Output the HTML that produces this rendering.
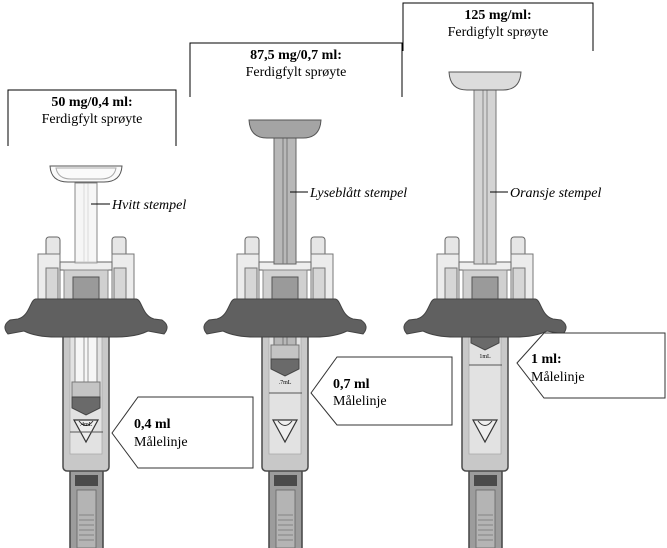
<!DOCTYPE html>
<html><head><meta charset="utf-8"><style>
html,body{margin:0;padding:0;background:#fff}
svg{display:block}
text{font-family:"Liberation Serif",serif;fill:#000}
</style></head><body>
<svg width="667" height="548" viewBox="0 0 667 548" xmlns="http://www.w3.org/2000/svg">
<defs>
<g id="base">
  <!-- needle shield -->
  <rect x="-16" y="468" width="33" height="82" fill="#9c9c9c" stroke="#444" stroke-width="1.5"/>
  <rect x="-11" y="475" width="23" height="11" fill="#4a4a4a"/>
  <rect x="-9" y="490" width="19" height="58" fill="#b4b4b4" stroke="#666" stroke-width="0.8"/>
  <g stroke="#777" stroke-width="0.8"><line x1="-7" y1="515" x2="8" y2="515"/><line x1="-7" y1="520" x2="8" y2="520"/><line x1="-7" y1="525" x2="8" y2="525"/><line x1="-7" y1="530" x2="8" y2="530"/><line x1="-7" y1="535" x2="8" y2="535"/><line x1="-7" y1="540" x2="8" y2="540"/></g>
  <!-- barrel -->
  <rect x="-23" y="330" width="46" height="141" rx="4" fill="#c8c8c8" stroke="#4a4a4a" stroke-width="1.5"/>
  <rect x="-16" y="334" width="32" height="120" fill="#e2e2e2" stroke="#aaa" stroke-width="0.8"/>
  <!-- tip -->
  <polygon points="-12,420 12,420 0,442" fill="#eee" stroke="#333" stroke-width="1.2"/>
  <path d="M-7,421 Q0,430 7,421" fill="none" stroke="#333" stroke-width="1"/>
</g>
<g id="grip">
  <rect x="-40" y="237" width="14" height="20" rx="3" fill="#e6e6e6" stroke="#666"/>
  <rect x="26" y="237" width="14" height="20" rx="3" fill="#e6e6e6" stroke="#666"/>
  <rect x="-48" y="254" width="22" height="48" fill="#ececec" stroke="#777"/>
  <rect x="26" y="254" width="22" height="48" fill="#ececec" stroke="#777"/>
  <rect x="-40" y="268" width="12" height="34" fill="#d6d6d6" stroke="#777"/>
  <rect x="28" y="268" width="12" height="34" fill="#d6d6d6" stroke="#777"/>
  <rect x="-26" y="262" width="52" height="8" fill="#eee" stroke="#666"/>
  <rect x="-22" y="270" width="44" height="32" fill="#d0d0d0" stroke="#888"/>
  <rect x="-13" y="277" width="26" height="25" fill="#9a9a9a" stroke="#555"/>
  <!-- flange -->
  <path d="M-50,299 L50,299 C56,299 56,316 68,319 L76,320 Q85,326 78,334 L62,331 Q50,337 30,337 L-30,337 Q-50,337 -62,331 L-78,334 Q-85,326 -76,320 L-68,319 C-56,316 -56,299 -50,299 Z" fill="#606060" stroke="#444"/>
</g>
</defs>

<!-- Header boxes -->
<g fill="none" stroke="#000" stroke-width="1">
  <polyline points="8,146 8,90 176,90 176,146"/>
  <polyline points="190,97 190,43 402,43 402,97"/>
  <polyline points="403,51 403,3 593,3 593,51"/>
</g>
<text x="92" y="106" font-size="14" font-weight="bold" text-anchor="middle">50 mg/0,4 ml:</text>
<text x="92" y="123" font-size="14" text-anchor="middle">Ferdigfylt sprøyte</text>
<text x="296" y="59" font-size="14" font-weight="bold" text-anchor="middle">87,5 mg/0,7 ml:</text>
<text x="296" y="76" font-size="14" text-anchor="middle">Ferdigfylt sprøyte</text>
<text x="498" y="19" font-size="14" font-weight="bold" text-anchor="middle">125 mg/ml:</text>
<text x="498" y="36" font-size="14" text-anchor="middle">Ferdigfylt sprøyte</text>

<!-- Syringe 1 -->
<g transform="translate(86,0)">
  <use href="#base"/>
  <rect x="-11" y="183" width="22" height="200" fill="#f6f6f6" stroke="#888"/>
  <line x1="-2" y1="183" x2="-2" y2="383" stroke="#999"/><line x1="2" y1="183" x2="2" y2="383" stroke="#999"/>
  <rect x="-14" y="382" width="28" height="15" fill="#c4c4c4" stroke="#777"/>
  <path d="M-14,397 L14,397 L14,408 L0,415 L-14,408 Z" fill="#6a6a6a" stroke="#444"/>
  <line x1="-16" y1="432" x2="17" y2="432" stroke="#555"/>
  <text x="0" y="426" font-size="6" text-anchor="middle" font-family="Liberation Sans">.4mL</text>
  <use href="#grip"/>
  <rect x="-11" y="183" width="22" height="80" fill="#f6f6f6" stroke="#888" opacity="0.7"/>
  <path d="M-36,166 L36,166 Q35,182 18,182 L-18,182 Q-35,182 -36,166 Z" fill="#fafafa" stroke="#555"/>
  <path d="M-30,168 L30,168 Q28,179 15,179 L-15,179 Q-28,179 -30,168 Z" fill="none" stroke="#aaa"/>
</g>
<line x1="91" y1="204" x2="110" y2="204" stroke="#000"/>
<text x="112" y="209" font-size="14" font-style="italic">Hvitt stempel</text>

<!-- Syringe 2 -->
<g transform="translate(285,0)">
  <use href="#base"/>
  <rect x="-11" y="138" width="22" height="208" fill="#b8b8b8" stroke="#666"/>
  <line x1="-2" y1="138" x2="-2" y2="346" stroke="#777"/><line x1="2" y1="138" x2="2" y2="346" stroke="#777"/>
  <rect x="-14" y="345" width="28" height="14" fill="#c4c4c4" stroke="#777"/>
  <path d="M-14,359 L14,359 L14,369 L0,376 L-14,369 Z" fill="#6a6a6a" stroke="#444"/>
  <line x1="-16" y1="393" x2="17" y2="393" stroke="#555"/>
  <text x="0" y="384" font-size="6" text-anchor="middle" font-family="Liberation Sans">.7mL</text>
  <use href="#grip"/>
  <rect x="-11" y="138" width="22" height="126" fill="#b8b8b8" stroke="#666"/>
  <line x1="-2" y1="138" x2="-2" y2="264" stroke="#777"/><line x1="2" y1="138" x2="2" y2="264" stroke="#777"/>
  <path d="M-36,120 L36,120 Q35,138 18,138 L-18,138 Q-35,138 -36,120 Z" fill="#a4a4a4" stroke="#555"/>
</g>
<line x1="290" y1="192" x2="308" y2="192" stroke="#000"/>
<text x="310" y="197" font-size="14" font-style="italic">Lyseblått stempel</text>

<!-- Syringe 3 -->
<g transform="translate(485,0)">
  <use href="#base"/>
  <rect x="-11" y="88" width="22" height="250" fill="#d4d4d4" stroke="#777"/>
  <line x1="-2" y1="88" x2="-2" y2="338" stroke="#888"/><line x1="2" y1="88" x2="2" y2="338" stroke="#888"/>
  <path d="M-14,335 L14,335 L14,343 L0,350 L-14,343 Z" fill="#6a6a6a" stroke="#444"/>
  <line x1="-16" y1="365" x2="17" y2="365" stroke="#555"/>
  <text x="0" y="358" font-size="6" text-anchor="middle" font-family="Liberation Sans">1mL</text>
  <use href="#grip"/>
  <rect x="-11" y="88" width="22" height="176" fill="#d4d4d4" stroke="#777"/>
  <line x1="-2" y1="88" x2="-2" y2="264" stroke="#888"/><line x1="2" y1="88" x2="2" y2="264" stroke="#888"/>
  <path d="M-36,72 L36,72 Q35,90 18,90 L-18,90 Q-35,90 -36,72 Z" fill="#dcdcdc" stroke="#555"/>
</g>
<line x1="490" y1="192" x2="508" y2="192" stroke="#000"/>
<text x="510" y="197" font-size="14" font-style="italic">Oransje stempel</text>

<!-- Callout boxes -->
<g fill="#fff" stroke="#333" stroke-width="1">
  <polygon points="112,433 138,397 253,397 253,468 138,468"/>
  <polygon points="311,393 337,357 452,357 452,425 337,425"/>
  <polygon points="517,363 544,333 665,333 665,398 544,398"/>
</g>
<text x="134" y="428" font-size="14" font-weight="bold">0,4 ml</text>
<text x="134" y="446" font-size="14">Målelinje</text>
<text x="333" y="388" font-size="14" font-weight="bold">0,7 ml</text>
<text x="333" y="405" font-size="14">Målelinje</text>
<text x="531" y="363" font-size="14" font-weight="bold">1 ml:</text>
<text x="531" y="381" font-size="14">Målelinje</text>
</svg>
</body></html>
